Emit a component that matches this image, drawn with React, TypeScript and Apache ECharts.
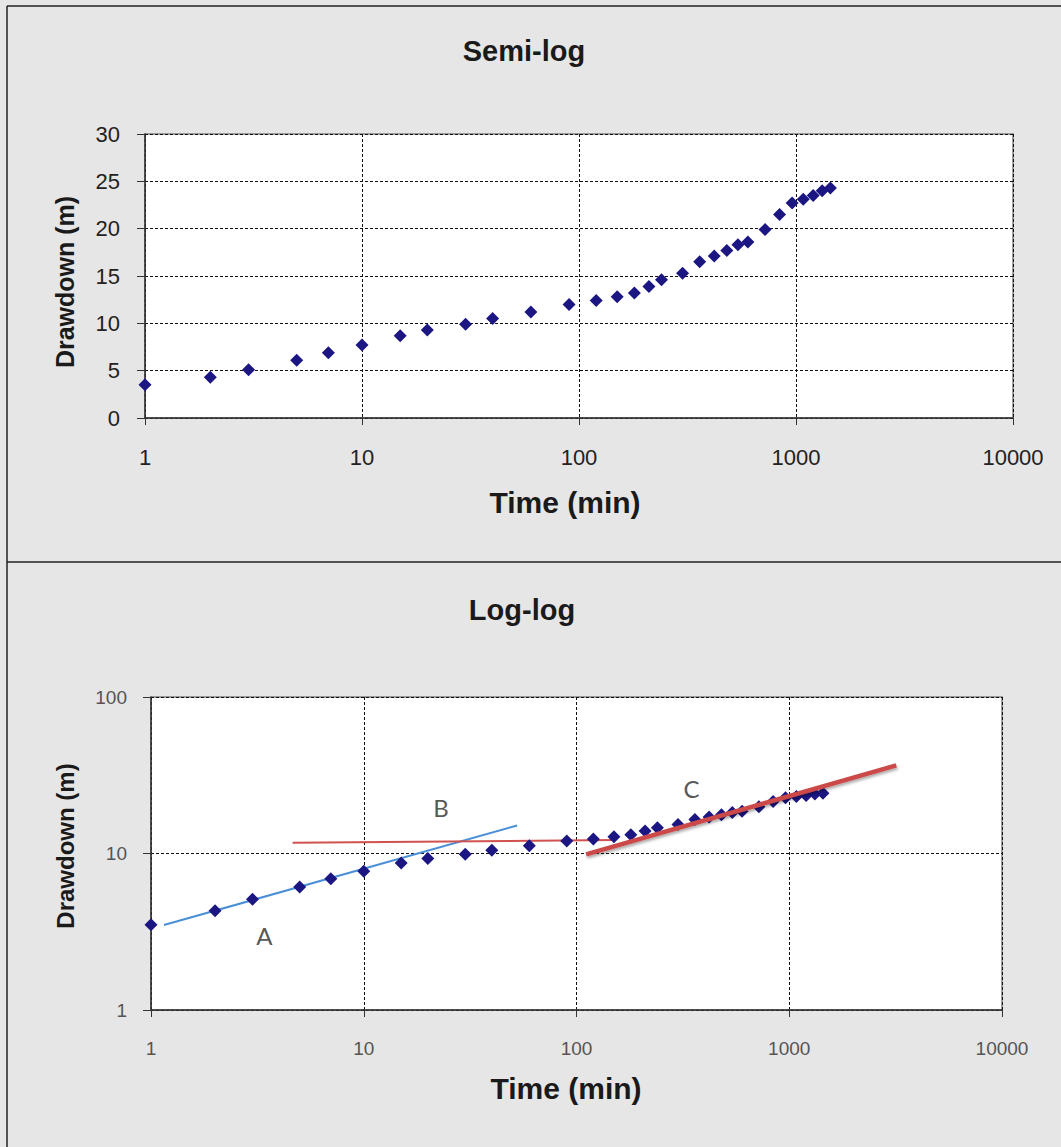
import React, { useEffect, useRef } from "react";
import * as echarts from "echarts";

// ---- Data ----
const TIME_MIN = [1, 2, 3, 5, 7, 10, 15, 20, 30, 40, 60, 90, 120, 150, 180, 210, 240, 300, 360, 420, 480, 540, 600, 720, 840, 960, 1080, 1200, 1320, 1440];
const DRAWDOWN_M = [3.5, 4.3, 5.1, 6.1, 6.9, 7.7, 8.7, 9.3, 9.9, 10.5, 11.2, 12.0, 12.4, 12.8, 13.2, 13.9, 14.6, 15.3, 16.5, 17.1, 17.7, 18.3, 18.6, 19.9, 21.5, 22.7, 23.1, 23.5, 24.0, 24.3];

// Straight-line fits drawn on the log-log plot: [time, drawdown] end points
const LINE_A = [[1.15, 3.49], [52.6, 15.1]];
const LINE_B = [[4.63, 11.7], [152, 12.2]];
const LINE_C = [[111, 9.86], [3184, 36.6]];

// Segment labels on the log-log plot
const SEGMENT_LABELS = [
  { name: "A", value: [3.41, 3.01] },
  { name: "B", value: [23.1, 19.8] },
  { name: "C", value: [347, 26.2] },
];

const SEMI_Y_TICKS = { min: 0, max: 30, interval: 5 };
const TIME_RANGE = { min: 1, max: 10000 };
const LOG_Y_RANGE = { min: 1, max: 100 };

const TITLE_TOP = "Semi-log";
const TITLE_BOTTOM = "Log-log";
const X_NAME = "Time (min)";
const Y_NAME = "Drawdown (m)";

const ARIAL = "'Liberation Sans', Arial, Helvetica, sans-serif";

export default function App() {
  const ref = useRef<HTMLDivElement>(null);

  useEffect(() => {
    document.body.style.margin = "0";
    if (!ref.current) return;
    const chart = echarts.init(ref.current, undefined, { renderer: "svg" });

    const points = TIME_MIN.map((t, i) => [t, DRAWDOWN_M[i]]);
    const dashed = { type: [3, 2] as any, color: "#111", width: 1 };
    const plain = (v: number) => String(Math.round(v));

    const option: any = {
      animation: false,
      backgroundColor: "#e6e6e6",
      grid: [
        { left: 145, top: 134, width: 868, height: 284, show: true, backgroundColor: "#ffffff", borderColor: "#808080", borderWidth: 1.5 },
        { left: 151, top: 697, width: 851, height: 313, show: true, backgroundColor: "#ffffff", borderColor: "#808080", borderWidth: 1.5 },
      ],
      xAxis: [
        {
          gridIndex: 0, type: "log", logBase: 10, min: TIME_RANGE.min, max: TIME_RANGE.max,
          axisLine: { show: true, onZero: false, lineStyle: { color: "#333", width: 1.5 } },
          axisTick: { show: true, length: 7, lineStyle: { color: "#333" } },
          axisLabel: { fontSize: 22, color: "#222", margin: 28, fontFamily: ARIAL, formatter: plain },
          splitLine: { show: true, lineStyle: dashed },
        },
        {
          gridIndex: 1, type: "log", logBase: 10, min: TIME_RANGE.min, max: TIME_RANGE.max,
          axisLine: { show: true, onZero: false, lineStyle: { color: "#333", width: 1.5 } },
          axisTick: { show: true, length: 7, lineStyle: { color: "#333" } },
          axisLabel: { fontSize: 19, color: "#555", margin: 29, fontFamily: ARIAL, formatter: plain },
          splitLine: { show: true, lineStyle: dashed },
        },
      ],
      yAxis: [
        {
          gridIndex: 0, type: "value", min: SEMI_Y_TICKS.min, max: SEMI_Y_TICKS.max, interval: SEMI_Y_TICKS.interval,
          axisLine: { show: true, onZero: false, lineStyle: { color: "#333", width: 1.5 } },
          axisTick: { show: true, length: 8, lineStyle: { color: "#333" } },
          axisLabel: { fontSize: 22, color: "#222", margin: 25, fontFamily: ARIAL },
          splitLine: { show: true, lineStyle: dashed },
        },
        {
          gridIndex: 1, type: "log", logBase: 10, min: LOG_Y_RANGE.min, max: LOG_Y_RANGE.max,
          axisLine: { show: true, onZero: false, lineStyle: { color: "#333", width: 1.5 } },
          axisTick: { show: true, length: 8, lineStyle: { color: "#333" } },
          axisLabel: { fontSize: 19, color: "#555", margin: 24, fontFamily: ARIAL, formatter: plain },
          splitLine: { show: true, lineStyle: dashed },
        },
      ],
      series: [
        {
          type: "scatter", xAxisIndex: 0, yAxisIndex: 0, data: points,
          symbol: "diamond", symbolSize: 13, itemStyle: { color: "#1c1683", opacity: 1 }, z: 5,
        },
        {
          type: "line", xAxisIndex: 1, yAxisIndex: 1, data: LINE_A, symbol: "none",
          lineStyle: { color: "#4a8fd6", width: 2 }, z: 3,
        },
        {
          type: "line", xAxisIndex: 1, yAxisIndex: 1, data: LINE_B, symbol: "none",
          lineStyle: { color: "#d0524e", width: 2 }, z: 3,
        },
        {
          type: "scatter", xAxisIndex: 1, yAxisIndex: 1, data: points,
          symbol: "diamond", symbolSize: 13, itemStyle: { color: "#1c1683", opacity: 1 }, z: 4,
        },
        {
          type: "line", xAxisIndex: 1, yAxisIndex: 1, data: LINE_C, symbol: "none",
          lineStyle: { color: "#cc4a48", width: 4.5, shadowColor: "rgba(0,0,0,0.35)", shadowBlur: 3, shadowOffsetX: 1, shadowOffsetY: 2 }, z: 6,
        },
        {
          type: "scatter", xAxisIndex: 1, yAxisIndex: 1, data: SEGMENT_LABELS,
          symbolSize: 0, silent: true, z: 7,
          label: { show: true, position: "inside", formatter: "{b}", fontSize: 24, color: "#2a2a2a", fontFamily: "Lato, 'Open Sans', sans-serif" },
        },
      ],
      graphic: [
        { type: "line", shape: { x1: 7, y1: 6, x2: 7, y2: 1147 }, style: { stroke: "#222", lineWidth: 1.5 }, silent: true },
        { type: "line", shape: { x1: 7, y1: 6, x2: 1061, y2: 6 }, style: { stroke: "#222", lineWidth: 1.5 }, silent: true },
        { type: "line", shape: { x1: 7, y1: 562, x2: 1061, y2: 562 }, style: { stroke: "#222", lineWidth: 1.5 }, silent: true },
        { type: "text", x: 524, y: 51, style: { text: TITLE_TOP, font: `bold 29px ${ARIAL}`, fill: "#1a1a1a", align: "center", verticalAlign: "middle" } },
        { type: "text", x: 522, y: 610, style: { text: TITLE_BOTTOM, font: `bold 29px ${ARIAL}`, fill: "#1a1a1a", align: "center", verticalAlign: "middle" } },
        { type: "text", x: 565, y: 502, style: { text: X_NAME, font: `bold 30px ${ARIAL}`, fill: "#1a1a1a", align: "center", verticalAlign: "middle" } },
        { type: "text", x: 566, y: 1088, style: { text: X_NAME, font: `bold 30px ${ARIAL}`, fill: "#1a1a1a", align: "center", verticalAlign: "middle" } },
        { type: "text", x: 65, y: 282, rotation: Math.PI / 2, style: { text: Y_NAME, font: `bold 25px ${ARIAL}`, fill: "#1a1a1a", align: "center", verticalAlign: "middle" } },
        { type: "text", x: 65, y: 846, rotation: Math.PI / 2, style: { text: Y_NAME, font: `bold 24px ${ARIAL}`, fill: "#1a1a1a", align: "center", verticalAlign: "middle" } },
      ],
    };

    chart.setOption(option);
    return () => chart.dispose();
  }, []);

  return <div ref={ref} style={{ width: 1061, height: 1147 }} />;
}
